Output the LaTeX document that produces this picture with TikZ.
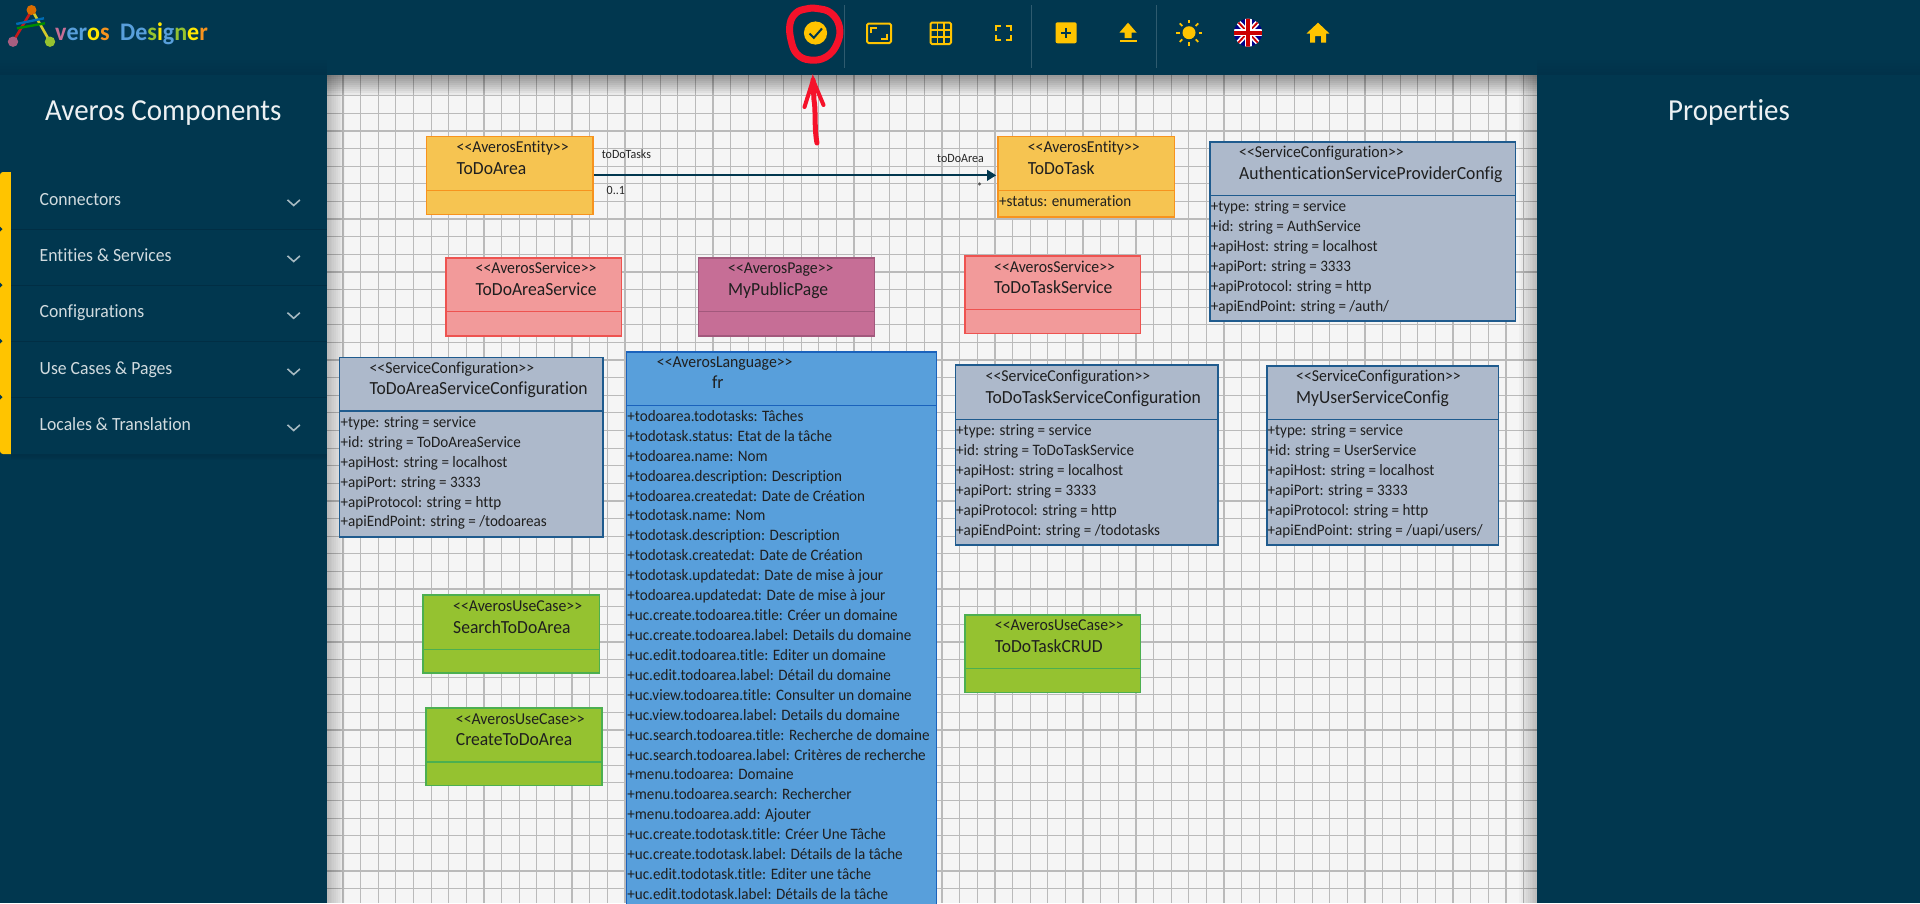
\documentclass[tikz,border=0pt]{standalone}
\usepackage{fontspec}
\setmainfont[FakeStretch=0.95,Ligatures={TeXOff,NoCommon}]{Carlito}
\usetikzlibrary{arrows.meta}
\definecolor{navy}{HTML}{01374F}
\definecolor{navyline}{HTML}{012E44}
\definecolor{amber}{HTML}{FFC400}
\definecolor{inkred}{HTML}{F5122A}
\tikzset{
  classbox/.style={draw, anchor=north west, inner sep=0, outer sep=0, line width=1.6pt},
  entitybox/.style={classbox, fill=entityfill, draw=entityline},
  servicebox/.style={classbox, fill=servicefill, draw=serviceline},
  pagebox/.style={classbox, fill=pagefill, draw=pageline},
  configbox/.style={classbox, fill=configfill, draw=configline},
  langbox/.style={classbox, fill=langfill, draw=langline},
  casebox/.style={classbox, fill=casefill, draw=caseline},
  stereotext/.style={anchor=mid west, inner sep=0, yshift=-2.2pt, text=black!88, font=\fontsize{16.6}{19}\selectfont},
  nametext/.style={anchor=mid west, inner sep=0, yshift=-3.3pt, text=black!88, font=\fontsize{18.5}{22}\selectfont},
  attrtext/.style={anchor=mid west, inner sep=0, yshift=-2.3pt, text=black!88, font=\fontsize{15.9}{18}\selectfont},
  endtext/.style={anchor=mid west, inner sep=0, yshift=-1pt, text=black!85, font=\fontsize{12.6}{14}\selectfont},
  menutext/.style={anchor=mid west, inner sep=0, yshift=-3.3pt, text=white!82!navy, font=\fontsize{18.6}{21}\selectfont},
  titletext/.style={anchor=mid west, inner sep=0, yshift=-6.5pt, text=white!93!navy, font=\fontsize{30.5}{34}\selectfont},
  logotext/.style={anchor=mid west, inner sep=0, yshift=-6pt, font=\bfseries\fontsize{25.3}{28}\selectfont},
  iconline/.style={draw=amber, line width=2pt, line join=round},
  dividerline/.style={line width=1.5pt},
}
\definecolor{entityfill}{HTML}{F6C451}
\definecolor{entityline}{HTML}{F7931E}
\definecolor{servicefill}{HTML}{F29A9A}
\definecolor{serviceline}{HTML}{EE5350}
\definecolor{pagefill}{HTML}{C66E96}
\definecolor{pageline}{HTML}{A2587C}
\definecolor{configfill}{HTML}{ADB9CB}
\definecolor{configline}{HTML}{1F5B8E}
\definecolor{langfill}{HTML}{589FDB}
\definecolor{langline}{HTML}{1A62BC}
\definecolor{casefill}{HTML}{95C230}
\definecolor{caseline}{HTML}{4CAF50}
\begin{document}
\begin{tikzpicture}[x=1pt,y=-1pt]
\clip (0,0) rectangle (1920,903);
\fill[navy] (0,0) rectangle (1920,903);
% canvas
\fill[black!4] (327,75) rectangle (1537,903);
\foreach \i in {0,...,67} {\draw[black!27, line width=1.2pt] (343+\i*17.62,75) -- (343+\i*17.62,903);}
\foreach \i in {0,...,46} {\draw[black!27, line width=1.2pt] (327,95.7+\i*17.62) -- (1537,95.7+\i*17.62);}
% soft edges of the canvas
\foreach \i in {0,...,9} {
  \fill[black, opacity=.045] (327,75) rectangle (1537,95-2*\i);
  \fill[black, opacity=.022] (327,75) rectangle (345-1.8*\i,903);
  \fill[black, opacity=.022] (1519+1.8*\i,75) rectangle (1537,903);
}
\foreach \i in {0,...,4} {
  \fill[navyline, opacity=.05] (0,60+3*\i) rectangle (327,75);
  \fill[navyline, opacity=.05] (1537,60+3*\i) rectangle (1920,75);
}

% logo
\draw[line width=2.6pt, red!75!black!90] (32,10) -- (13,41.7);
\draw[line width=2.6pt, yellow!80!black] (32,10) -- (50,41.7);
\draw[line width=2.4pt, blue!40!cyan!70!black] (16.3,24) -- (44,18.3);
\draw[line width=2.4pt, green!55!black] (17,28.3) -- (45,23.3);
\fill[orange!85!black] (31.5,10) circle (5);
\fill[pagefill!85!black] (13,41.7) circle (5.2);
\fill[casefill] (50,41.7) circle (5.2);
\node[logotext] (logoveros) at (55,32.3) {\textcolor{pagefill}{v}\textcolor{langfill}{er}\textcolor{yellow!90!orange}{o}\textcolor{entityline}{s}};
\node[logotext] (logodesigner) at (120,32.3) {\textcolor{langfill}{D}\textcolor{langfill}{e}\textcolor{casefill}{s}\textcolor{yellow!90!orange}{i}\textcolor{langfill}{g}\textcolor{casefill}{n}\textcolor{yellow!90!orange}{e}\textcolor{entityline}{r}};

% toolbar
\foreach \x in {844.5,1031.4,1156.3} {\draw[white!18!navy, line width=.8pt] (\x,5) -- (\x,68);}
\fill[amber] (815.5,33) circle (11.6);
\draw[navy, line width=2pt] (809.5,33.5) -- (813.8,37.8) -- (822,28.5);
\draw[iconline, rounded corners=1.5pt] (867,23.5) rectangle (891,43);
\draw[amber, line width=2pt] (871,33) -- (871,28) -- (877,28) (887,33.5) -- (887,38.5) -- (881,38.5);
\draw[iconline, rounded corners=1.5pt] (930.5,22.5) rectangle (951,44);
\draw[amber, line width=1.6pt] (937.3,22.5) -- (937.3,44) (944.2,22.5) -- (944.2,44) (930.5,29.7) -- (951,29.7) (930.5,36.8) -- (951,36.8);
\draw[amber, line width=2pt] (996,31) -- (996,26) -- (1001,26) (1005.5,26) -- (1010.5,26) -- (1010.5,31) (1010.5,35) -- (1010.5,40) -- (1005.5,40) (1001,40) -- (996,40) -- (996,35);
\fill[amber, rounded corners=2pt] (1055.5,22.3) rectangle (1076.7,43.3);
\draw[navy, line width=2pt] (1061,32.8) -- (1071,32.8) (1066,27.8) -- (1066,37.8);
\fill[amber] (1128,22.7) -- (1136.5,32.5) -- (1131.5,32.5) -- (1131.5,38) -- (1124.5,38) -- (1124.5,32.5) -- (1119.5,32.5) -- cycle;
\fill[amber] (1119.6,40.2) rectangle (1136.7,42.3);
\fill[amber] (1189,32.7) circle (6.5);
\foreach \a in {0,45,...,315} {\draw[amber, line width=1.8pt] (1189,32.7) ++(\a:9.5) -- ++(\a:3.6);}
\begin{scope}
\clip (1248,32.7) circle (14);
\fill[blue!55!black] (1234,18) rectangle (1262,47);
\draw[white, line width=5pt] (1234,18) -- (1262,47) (1234,47) -- (1262,18);
\draw[red!80!black, line width=1.8pt] (1234,18) -- (1262,47) (1234,47) -- (1262,18);
\draw[white, line width=7pt] (1248,18) -- (1248,47) (1234,32.7) -- (1262,32.7);
\draw[red!80!black, line width=4pt] (1248,18) -- (1248,47) (1234,32.7) -- (1262,32.7);
\end{scope}
\fill[amber] (1318,22.7) -- (1329.4,33.5) -- (1326,33.5) -- (1326,42.7) -- (1321,42.7) -- (1321,36) -- (1315,36) -- (1315,42.7) -- (1310,42.7) -- (1310,33.5) -- (1306.5,33.5) -- cycle;

% hand drawn mark
\draw[inkred, line width=7pt, line cap=round] plot[smooth cycle, tension=.7] coordinates {(817,8.5) (831,13) (839.5,27) (837,44) (826,57) (810,60) (797,54) (791,40) (790,24) (796,13) (806,9)};
\coordinate (marktail) at (817,143);
\coordinate (marktip) at (813,80);
\coordinate (markleft) at (804.5,107);
\coordinate (markright) at (823.5,105);
\draw[inkred, line width=5pt, line cap=round] (marktail) .. controls (814,128) and (816,110) .. (814,100) -- (marktip);
\draw[inkred, line width=4pt, line cap=round] (markleft) -- (marktip) -- (markright);

% left panel
\node[titletext] (componentstitle) at (45,111.7) {Averos Components};
\node[titletext] (propertiestitle) at (1668,111.7) {Properties};
\fill[amber, rounded corners=3pt] (0,172) rectangle (14,454);
\fill[navy] (11,172) rectangle (327,454);
\foreach \i in {0,...,4} {\fill[navyline, opacity=.15] (11,454) rectangle (327,460-\i);}
\foreach \y in {229,285,341,397} {
  \draw[navyline, line width=1pt] (11,\y) -- (327,\y);
  \fill[navy] (0,\y-2.5) -- (2.5,\y) -- (0,\y+2.5) -- cycle;
}
\node[menutext] (menuconnectors) at (39.5,199.7) {Connectors};
\node[menutext] (menuentities) at (39.5,255.7) {Entities \& Services};
\node[menutext] (menuconfigs) at (39.5,311.7) {Configurations};
\node[menutext] (menucases) at (39.5,368.7) {Use Cases \& Pages};
\node[menutext] (menulocales) at (39.5,424.7) {Locales \& Translation};
\foreach \y in {202.7,258.7,315.5,371.7,427.7} {\draw[white!65!navy, line width=1.6pt] (287.5,\y-2.8) -- (293.7,\y+2.8) -- (299.9,\y-2.8);}

% entities
\node[entitybox, minimum width=166.2, minimum height=78] (todoarea) at (426.5,136.3) {};
\draw[entityline, dividerline] (todoarea.west |- 0,190.3) -- (todoarea.east |- 0,190.3);
\node[stereotext] (todoareastereo) at (456.5,147.7) {<<AverosEntity>>};
\node[nametext] (todoareaname) at (456.5,168.7) {ToDoArea};
\node[entitybox, minimum width=176.3, minimum height=80.4] (todotask) at (998.2,136.3) {};
\draw[entityline, dividerline] (todotask.west |- 0,190.3) -- (todotask.east |- 0,190.3);
\node[stereotext] (todotaskstereo) at (1027.6,147.7) {<<AverosEntity>>};
\node[nametext] (todotaskname) at (1027.6,168.7) {ToDoTask};
\node[attrtext] (todotaskstatus) at (999,201.7) {+status: enumeration};
\draw[navy, line width=2pt, -{Triangle[length=9pt,width=10.5pt]}, shorten <=1.5pt, shorten >=2pt] (todoarea.east) -- (todoarea.east -| todotask.west);
\node[endtext] (endtasks) at (601.6,155) {toDoTasks};
\node[endtext] (endlower) at (606.5,191) {0..1};
\node[endtext] (endarea) at (937,159.3) {toDoArea};
\node[endtext] (endmany) at (976.5,188) {*};

% services and page
\node[servicebox, minimum width=175.9, minimum height=78] (areaservice) at (445.7,257.7) {};
\draw[serviceline, dividerline] (areaservice.west |- 0,311.3) -- (areaservice.east |- 0,311.3);
\node[stereotext] (areaservicestereo) at (475.5,269) {<<AverosService>>};
\node[nametext] (areaservicename) at (475.5,289.7) {ToDoAreaService};
\node[pagebox, minimum width=175.9, minimum height=78] (publicpage) at (698.4,257.7) {};
\draw[pageline, dividerline] (publicpage.west |- 0,311.3) -- (publicpage.east |- 0,311.3);
\node[stereotext] (publicpagestereo) at (728,269) {<<AverosPage>>};
\node[nametext] (publicpagename) at (728,289.7) {MyPublicPage};
\node[servicebox, minimum width=175.9, minimum height=77.6] (taskservice) at (964.7,255.7) {};
\draw[serviceline, dividerline] (taskservice.west |- 0,309.7) -- (taskservice.east |- 0,309.7);
\node[stereotext] (taskservicestereo) at (994,267.7) {<<AverosService>>};
\node[nametext] (taskservicename) at (994,287.7) {ToDoTaskService};

% service configurations
\node[configbox, minimum width=305.3, minimum height=179.3] (authconfig) at (1210,141.7) {};
\draw[configline, dividerline] (authconfig.west |- 0,195.7) -- (authconfig.east |- 0,195.7);
\node[stereotext] (authstereo) at (1239,152.7) {<<ServiceConfiguration>>};
\node[nametext] (authname) at (1239,173.7) {AuthenticationServiceProviderConfig};
\node[attrtext] (authtype) at (1210.6,206.7) {+type: string = service};
\node[attrtext] (authid) at (1210.6,226.7) {+id: string = AuthService};
\node[attrtext] (authhost) at (1210.6,246.7) {+apiHost: string = localhost};
\node[attrtext] (authport) at (1210.6,266.7) {+apiPort: string = 3333};
\node[attrtext] (authprotocol) at (1210.6,286.7) {+apiProtocol: string = http};
\node[attrtext] (authend) at (1210.6,306.7) {+apiEndPoint: string = /auth/};

\node[configbox, minimum width=263.3, minimum height=179.4] (areaconfig) at (339.6,357.3) {};
\draw[configline, dividerline] (areaconfig.west |- 0,411) -- (areaconfig.east |- 0,411);
\node[stereotext] (areaconfigstereo) at (369.4,369) {<<ServiceConfiguration>>};
\node[nametext] (areaconfigname) at (369.4,388.7) {ToDoAreaServiceConfiguration};
\node[attrtext] (areatype) at (340.4,422.7) {+type: string = service};
\node[attrtext] (areaid) at (340.4,442.7) {+id: string = ToDoAreaService};
\node[attrtext] (areahost) at (340.4,462.7) {+apiHost: string = localhost};
\node[attrtext] (areaport) at (340.4,482.7) {+apiPort: string = 3333};
\node[attrtext] (areaprotocol) at (340.4,502.7) {+apiProtocol: string = http};
\node[attrtext] (areaend) at (340.4,521.7) {+apiEndPoint: string = /todoareas};

\node[configbox, minimum width=262.5, minimum height=179.7] (taskconfig) at (955.3,365) {};
\draw[configline, dividerline] (taskconfig.west |- 0,419.7) -- (taskconfig.east |- 0,419.7);
\node[stereotext] (taskconfigstereo) at (985.5,376.7) {<<ServiceConfiguration>>};
\node[nametext] (taskconfigname) at (985.5,397.7) {ToDoTaskServiceConfiguration};
\node[attrtext] (tasktype) at (956,431) {+type: string = service};
\node[attrtext] (taskid) at (956,451) {+id: string = ToDoTaskService};
\node[attrtext] (taskhost) at (956,471) {+apiHost: string = localhost};
\node[attrtext] (taskport) at (956,491) {+apiPort: string = 3333};
\node[attrtext] (taskprotocol) at (956,511) {+apiProtocol: string = http};
\node[attrtext] (taskend) at (956,531) {+apiEndPoint: string = /todotasks};

\node[configbox, minimum width=231.9, minimum height=179] (userconfig) at (1266.7,365.7) {};
\draw[configline, dividerline] (userconfig.west |- 0,419.7) -- (userconfig.east |- 0,419.7);
\node[stereotext] (userconfigstereo) at (1296,376.7) {<<ServiceConfiguration>>};
\node[nametext] (userconfigname) at (1296,397.7) {MyUserServiceConfig};
\node[attrtext] (usertype) at (1267.4,431) {+type: string = service};
\node[attrtext] (userid) at (1267.4,451) {+id: string = UserService};
\node[attrtext] (userhost) at (1267.4,471) {+apiHost: string = localhost};
\node[attrtext] (userport) at (1267.4,491) {+apiPort: string = 3333};
\node[attrtext] (userprotocol) at (1267.4,511) {+apiProtocol: string = http};
\node[attrtext] (userend) at (1267.4,531) {+apiEndPoint: string = /uapi/users/};

% language
\node[langbox, minimum width=309.8, minimum height=570] (language) at (626.5,351.7) {};
\draw[langline, dividerline] (language.west |- 0,405.7) -- (language.east |- 0,405.7);
\node[stereotext] (languagestereo) at (656.7,362.7) {<<AverosLanguage>>};
\node[nametext] (languagename) at (711.8,383.3) {fr};
\foreach \i/\t in {0/+todoarea.todotasks: Tâches,
  1/+todotask.status: Etat de la tâche,
  2/+todoarea.name: Nom,
  3/+todoarea.description: Description,
  4/+todoarea.createdat: Date de Création,
  5/+todotask.name: Nom,
  6/+todotask.description: Description,
  7/+todotask.createdat: Date de Création,
  8/+todotask.updatedat: Date de mise à jour,
  9/+todoarea.updatedat: Date de mise à jour,
  10/+uc.create.todoarea.title: Créer un domaine,
  11/+uc.create.todoarea.label: Details du domaine,
  12/+uc.edit.todoarea.title: Editer un domaine,
  13/+uc.edit.todoarea.label: Détail du domaine,
  14/+uc.view.todoarea.title: Consulter un domaine,
  15/+uc.view.todoarea.label: Details du domaine,
  16/+uc.search.todoarea.title: Recherche de domaine,
  17/+uc.search.todoarea.label: Critères de recherche,
  18/+menu.todoarea: Domaine,
  19/+menu.todoarea.search: Rechercher,
  20/+menu.todoarea.add: Ajouter,
  21/+uc.create.todotask.title: Créer Une Tâche,
  22/+uc.create.todotask.label: Détails de la tâche,
  23/+uc.edit.todotask.title: Editer une tâche,
  24/+uc.edit.todotask.label: Détails de la tâche} {
  \node[attrtext] (langitem\i) at (627.2,416.7+\i*19.92) {\t};
}

% use cases
\node[casebox, minimum width=176.3, minimum height=77.7] (searchcase) at (423,595) {};
\draw[caseline, dividerline] (searchcase.west |- 0,649.3) -- (searchcase.east |- 0,649.3);
\node[stereotext] (searchstereo) at (453,606.7) {<<AverosUseCase>>};
\node[nametext] (searchname) at (453,627.7) {SearchToDoArea};
\node[casebox, minimum width=176.3, minimum height=77.6] (createcase) at (425.7,707.7) {};
\draw[caseline, dividerline] (createcase.west |- 0,762) -- (createcase.east |- 0,762);
\node[stereotext] (createstereo) at (455.7,720) {<<AverosUseCase>>};
\node[nametext] (createname) at (455.7,740) {CreateToDoArea};
\node[casebox, minimum width=175.5, minimum height=77.6] (crudcase) at (964.9,614.7) {};
\draw[caseline, dividerline] (crudcase.west |- 0,668.7) -- (crudcase.east |- 0,668.7);
\node[stereotext] (crudstereo) at (994.7,626) {<<AverosUseCase>>};
\node[nametext] (crudname) at (994.7,646.7) {ToDoTaskCRUD};
\end{tikzpicture}
\end{document}
